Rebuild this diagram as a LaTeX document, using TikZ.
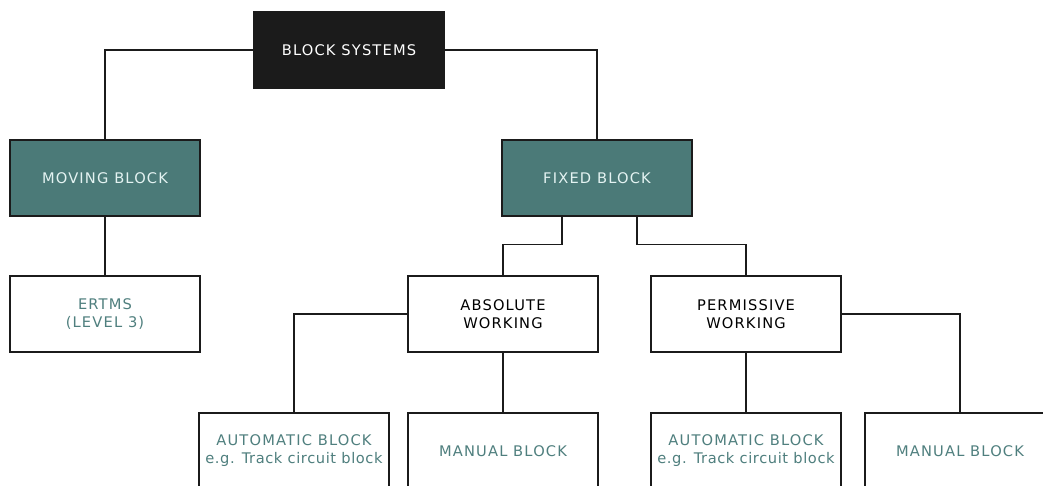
\documentclass[tikz,border=0pt]{standalone}
\usepackage{fontspec}
\setmainfont{DejaVu Sans}[LetterSpace=8]
\newfontfamily\esempiofont{DejaVu Sans}[LetterSpace=4]
\definecolor{nero}{HTML}{1B1B1B}
\definecolor{verdeacqua}{HTML}{4B7A78}
\definecolor{testoacqua}{HTML}{4F7F7E}
\definecolor{testochiaro}{HTML}{E4F3F2}
\begin{document}
\begin{tikzpicture}[x=0.03cm, y=-0.03cm,
    blocco/.style={draw=nero, line width=1.2pt, rectangle, minimum width=5.7cm, minimum height=2.28cm,
        align=center, font=\fontsize{12.5}{15.3}\selectfont},
    radice/.style={blocco, fill=nero, text=white},
    tipo/.style={blocco, fill=verdeacqua, text=testochiaro},
    modo/.style={blocco, fill=white, text=black},
    foglia/.style={blocco, fill=white, text=testoacqua},
    linea/.style={draw=nero, line width=1.2pt}]
        \useasboundingbox (0,0) rectangle (1043,486);

        % Radice
        \node[radice] at (349, 50) (sys) {BLOCK SYSTEMS};

        % Tipi di blocco
        \node[tipo] at (105, 178) (moving) {MOVING BLOCK};
        \node[tipo] at (597, 178) (fixed) {FIXED BLOCK};

        % Livello sotto moving block
        \node[foglia] at (105, 314) (ertms) {ERTMS\\(LEVEL 3)};

        % Modi di lavoro
        \node[modo] at (503, 314) (absolute) {ABSOLUTE\\WORKING};
        \node[modo] at (746, 314) (permissive) {PERMISSIVE\\WORKING};

        % Foglie in basso
        \node[foglia] at (294, 451) (autoabs) {AUTOMATIC BLOCK\\{\esempiofont e.g. Track circuit block}};
        \node[foglia] at (503, 451) (manabs) {MANUAL BLOCK};
        \node[foglia] at (746, 451) (autoperm) {AUTOMATIC BLOCK\\{\esempiofont e.g. Track circuit block}};
        \node[foglia] at (960, 451) (manperm) {MANUAL BLOCK};

        % Collegamenti
        \draw[linea] (sys.west) -| (moving.north);
        \draw[linea] (sys.east) -| (fixed.north);
        \draw[linea] (moving.south) -- (ertms.north);
        \draw[linea] ([xshift=-1.05cm]fixed.south) -- ++(0,28) -| (absolute.north);
        \draw[linea] ([xshift=1.2cm]fixed.south) -- ++(0,28) -| (permissive.north);
        \draw[linea] (absolute.west) -| (autoabs.north);
        \draw[linea] (absolute.south) -- (manabs.north);
        \draw[linea] (permissive.south) -- (autoperm.north);
        \draw[linea] (permissive.east) -| (manperm.north);
    \end{tikzpicture}
\end{document}
